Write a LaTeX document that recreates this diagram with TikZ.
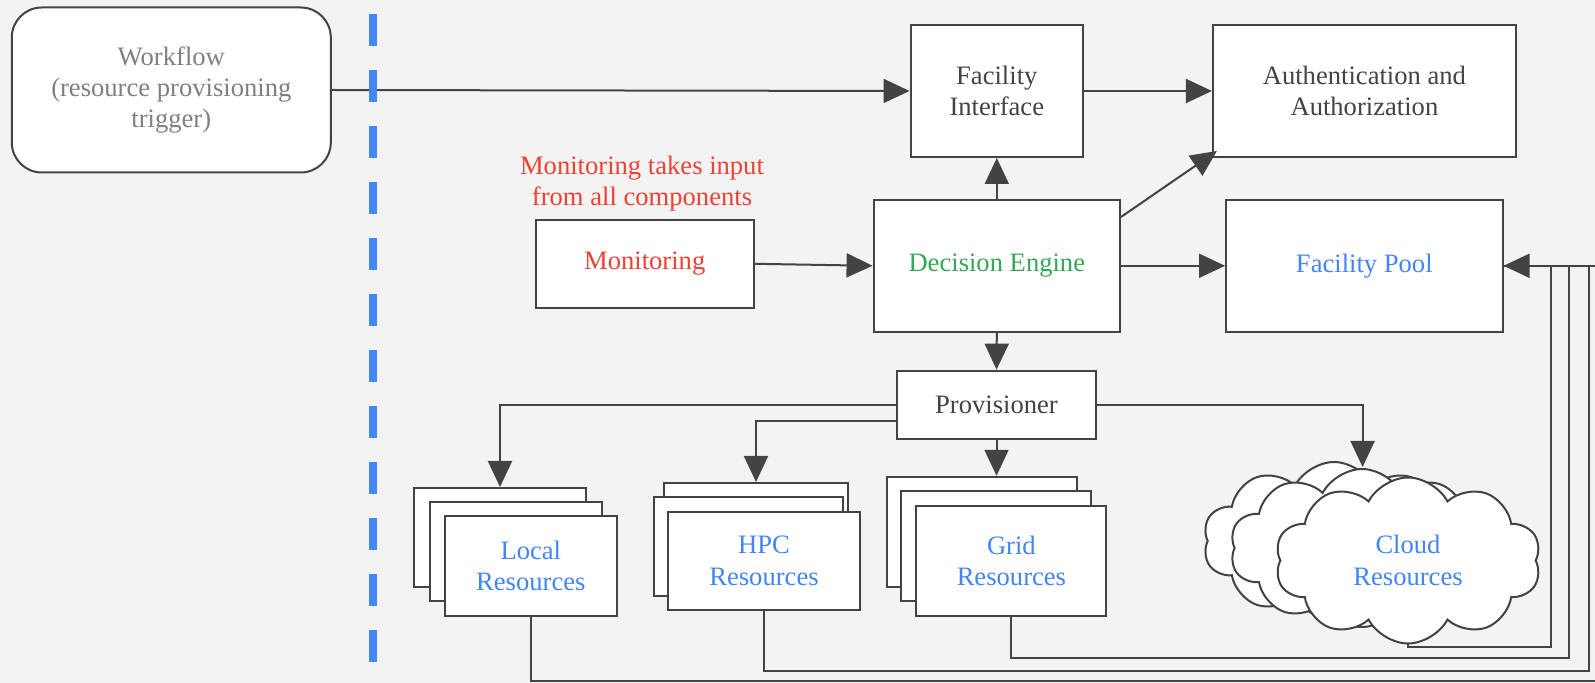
\documentclass[tikz,border=0pt]{standalone}
\usepackage{fontspec}
\setmainfont{Liberation Serif}
\usetikzlibrary{arrows.meta, shapes.symbols}
\definecolor{gblue}{RGB}{66, 133, 244}
\definecolor{gred}{RGB}{234, 67, 53}
\definecolor{ggreen}{RGB}{52, 168, 83}
\definecolor{wfgray}{RGB}{128, 128, 128}
\definecolor{linegray}{RGB}{67, 67, 67}
\definecolor{bggray}{RGB}{243, 243, 243}

\begin{document}
\begin{tikzpicture}[x=0.5pt, y=-0.5pt,
  every node/.style={font=\fontsize{13.3}{15.6}\selectfont, align=center, inner sep=0pt},
  box/.style={draw=linegray, line width=1pt, fill=white, text=linegray},
  conn/.style={draw=linegray, line width=1pt, -{Triangle[length=13pt, width=12pt]}},
  wire/.style={draw=linegray, line width=1pt},
  cloudbox/.style={cloud, cloud puffs=10, cloud puff arc=125, cloud ignores aspect,
    draw=linegray, line width=1pt, fill=white}]

  \path[use as bounding box, fill=bggray] (0, 0) rectangle (1595, 683);
  \clip (0, 0) rectangle (1595, 683);

  % Top row
  \node[box, rounded corners=15pt, text=wfgray, minimum width=159.5pt, minimum height=82.5pt] (workflow) at (171.3, 90) {Workflow\\(resource provisioning\\trigger)};
  \node[box, minimum width=86.25pt, minimum height=66pt] (fi) at (996.8, 91) {Facility\\Interface};
  \node[box, minimum width=151.5pt, minimum height=66pt] (auth) at (1364.4, 91) {Authentication and\\Authorization};

  % Middle row
  \node[text=gred] (note) at (642, 184) {Monitoring takes input\\from all components};
  \node[box, text=gred, minimum width=109pt, minimum height=44pt] (monitor) at (644.7, 263.8) {Monitoring};
  \node[box, text=ggreen, minimum width=123.25pt, minimum height=65.85pt] (engine) at (996.8, 265.8) {Decision Engine};
  \node[box, text=gblue, minimum width=138.25pt, minimum height=65.85pt] (pool) at (1364.3, 265.8) {Facility Pool};
  \node[box, minimum width=99.5pt, minimum height=34.15pt] (prov) at (996.5, 404.8) {Provisioner};

  % Resource stacks
  \node[box, minimum width=86pt, minimum height=49.5pt] (localA) at (500, 537.5) {};
  \node[box, minimum width=86pt, minimum height=49.5pt] (localB) at (516.4, 551.5) {};
  \node[box, text=gblue, minimum width=86pt, minimum height=49.5pt] (local) at (530.8, 566) {Local\\Resources};

  \node[box, minimum width=92pt, minimum height=50pt] (hpcA) at (756, 533) {};
  \node[box, minimum width=94.5pt, minimum height=49.5pt] (hpcB) at (748.4, 546.4) {};
  \node[box, text=gblue, minimum width=96pt, minimum height=49pt] (hpc) at (764, 560.8) {HPC\\Resources};

  \node[box, minimum width=95pt, minimum height=55pt] (gridA) at (982.2, 531.8) {};
  \node[box, minimum width=95pt, minimum height=55pt] (gridB) at (996.4, 546.4) {};
  \node[box, text=gblue, minimum width=95pt, minimum height=55pt] (grid) at (1011.4, 560.9) {Grid\\Resources};

  \node[cloudbox, minimum width=131pt, minimum height=79pt] (cloudA) at (1334, 541) {};
  \node[cloudbox, minimum width=132pt, minimum height=79pt] (cloudB) at (1362, 548) {};
  \node[cloudbox, text=gblue, minimum width=133pt, minimum height=83pt] (cloud) at (1408, 560.5) {Cloud\\Resources};
  \coordinate (cloudtop) at (1362.6, 467);

  % Connectors
  \draw[conn] (workflow.east) -- (fi.west);
  \draw[conn] (fi.east) -- (auth.west);
  \draw[conn] (engine.north) -- (fi.south);
  \draw[conn] ([yshift=-9pt]engine.north east) -- ([shift={(5,-7)}]auth.south west);
  \draw[conn] (monitor.east) -- (engine.west);
  \draw[conn] (engine.east) -- (pool.west);
  \draw[conn] (engine.south) -- (prov.north);
  \draw[conn] (prov.west) -| (localA.north);
  \draw[conn] ([yshift=-8pt]prov.west) -| (hpcA.north);
  \draw[conn] (prov.south) -- (prov.south |- gridA.north);
  \draw[conn] (prov.east) -| (cloudtop);

  % Return paths to the pool
  \coordinate (bus) at (1600, 265.8);
  \draw[wire] (cloud.south) |- (1551, 647) |- (pool.east);
  \draw[wire] (grid.south) |- (1569, 657.5) |- (pool.east);
  \draw[wire] (hpc.south) |- (1589, 671) |- (pool.east);
  \draw[wire] (local.south) |- (1600, 681) |- (pool.east);
  \draw[conn] (bus) -- (pool.east);

  % Boundary
  \draw[gblue, line width=4pt, dash pattern=on 16pt off 12pt] (373, 14) -- (373, 662);
\end{tikzpicture}
\end{document}
